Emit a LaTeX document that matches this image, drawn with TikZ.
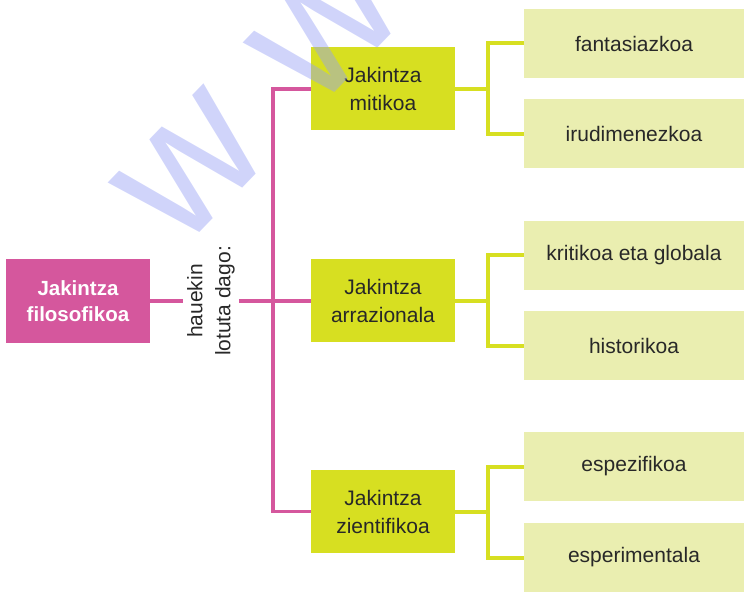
\documentclass[tikz,border=0pt]{standalone}
\usepackage{fontspec}
\setmainfont{Liberation Sans}
\definecolor{pinkbox}{RGB}{213,87,157}
\definecolor{greenbox}{RGB}{215,223,33}
\definecolor{palebox}{RGB}{234,238,176}
\definecolor{inkgray}{RGB}{40,40,40}
\definecolor{markblue}{RGB}{150,160,245}
\begin{document}
\begin{tikzpicture}[x=1pt,y=-1pt,
    mainbox/.style={fill=pinkbox,text=white,font=\bfseries\fontsize{20.5}{26}\selectfont,
        minimum width=144pt,minimum height=84pt,align=center,inner sep=0pt},
    kindbox/.style={fill=greenbox,text=inkgray,font=\fontsize{21}{28}\selectfont,
        minimum width=144pt,minimum height=83pt,align=center,inner sep=0pt},
    traitbox/.style={fill=palebox,text=inkgray,font=\fontsize{21}{28}\selectfont,
        minimum width=220pt,minimum height=69pt,inner sep=0pt},
    pinkline/.style={draw=pinkbox,line width=3.5pt},
    greenline/.style={draw=greenbox,line width=4pt}]
    \useasboundingbox (0,0) rectangle (747,593);
    \node[mainbox] (filo) at (78,301) {Jakintza\\filosofikoa};
    \node[rotate=90,align=center,text=inkgray,font=\fontsize{21}{28}\selectfont,inner sep=4pt]
        (lotu) at (211,301) {hauekin\\lotuta dago:};
    \node[kindbox] (miti) at (383,89) {Jakintza\\mitikoa};
    \node[kindbox] (arra) at (383,301) {Jakintza\\arrazionala};
    \node[kindbox] (zien) at (383,511.5) {Jakintza\\zientifikoa};
    \node[traitbox] (fant) at (634,43.5) {fantasiazkoa};
    \node[traitbox] (irud) at (634,134) {irudimenezkoa};
    \node[traitbox] (krit) at (634,255.5) {kritikoa eta globala};
    \node[traitbox] (hist) at (634,346) {historikoa};
    \node[traitbox] (espe) at (634,466.5) {espezifikoa};
    \node[traitbox] (espr) at (634,557.5) {esperimentala};
    \coordinate (spine) at (273,301);
    \draw[pinkline] (filo.east) -- (lotu.north);
    \draw[pinkline] (lotu.south) -- (arra.west);
    \draw[pinkline] (miti.west) -- (miti.west -| spine) -- (zien.west -| spine) -- (zien.west);
    \foreach \kind/\up/\down in {miti/fant/irud,arra/krit/hist,zien/espe/espr} {
        \coordinate (fork) at ([xshift=33pt]\kind.east);
        \draw[greenline] (\kind.east) -- (fork);
        \draw[greenline] (\up.west) -| (fork) |- (\down.west);
    }
    \begin{scope}
        \clip (0,0) rectangle (747,593);
        \node[rotate=46,anchor=base west,inner sep=0pt,text=markblue,text opacity=0.45,
            font=\fontsize{190}{190}\selectfont] (mark) at (180,253) {w\kern58pt w\kern58pt w};
    \end{scope}
\end{tikzpicture}
\end{document}
